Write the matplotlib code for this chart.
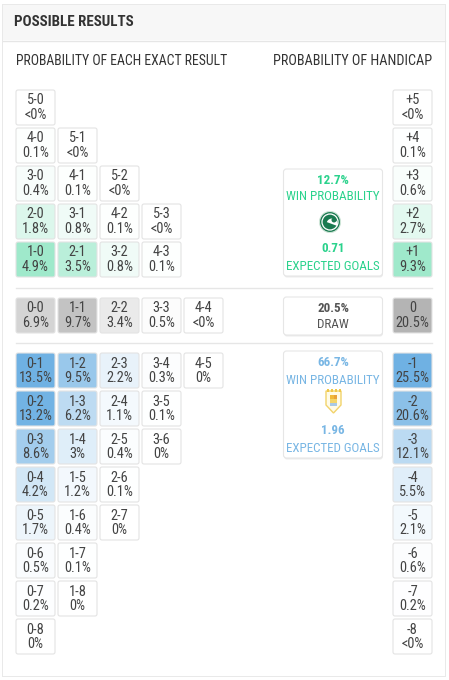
import matplotlib
matplotlib.use('Agg')
import matplotlib.pyplot as plt
from matplotlib.patches import FancyBboxPatch, Rectangle, Circle, Polygon, Wedge
from matplotlib.colors import LinearSegmentedColormap, Normalize

# ─── Data ──────────────────────────────────────────────────────
home_results = ["5-0", "4-0", "5-1", "3-0", "4-1", "5-2", "2-0", "3-1", "4-2", "5-3",
                "1-0", "2-1", "3-2", "4-3"]
home_pct = ["<0%", "0.1%", "<0%", "0.4%", "0.1%", "<0%", "1.8%", "0.8%", "0.1%", "<0%",
            "4.9%", "3.5%", "0.8%", "0.1%"]

draw_results = ["0-0", "1-1", "2-2", "3-3", "4-4"]
draw_pct = ["6.9%", "9.7%", "3.4%", "0.5%", "<0%"]

away_results = ["0-1", "1-2", "2-3", "3-4", "4-5", "0-2", "1-3", "2-4", "3-5",
                "0-3", "1-4", "2-5", "3-6", "0-4", "1-5", "2-6", "0-5", "1-6", "2-7",
                "0-6", "1-7", "0-7", "1-8", "0-8"]
away_pct = ["13.5%", "9.5%", "2.2%", "0.3%", "0%", "13.2%", "6.2%", "1.1%", "0.1%",
            "8.6%", "3%", "0.4%", "0%", "4.2%", "1.2%", "0.1%", "1.7%", "0.4%", "0%",
            "0.5%", "0.1%", "0.2%", "0%", "0%"]

handicap_labels = ["+5", "+4", "+3", "+2", "+1", "0", "-1", "-2", "-3", "-4",
                   "-5", "-6", "-7", "-8"]
handicap_pct = ["<0%", "0.1%", "0.6%", "2.7%", "9.3%", "20.5%", "25.5%", "20.6%",
                "12.1%", "5.5%", "2.1%", "0.6%", "0.2%", "<0%"]

home_win, home_xg = "12.7%", "0.71"
draw_prob = "20.5%"
away_win, away_xg = "66.7%", "1.96"

# ─── Style ─────────────────────────────────────────────────────
FONT = ['Roboto Condensed', 'Roboto', 'DejaVu Sans']
TXT = '#444444'
GREEN_TXT = '#2ad28c'
BLUE_TXT = '#78b6e4'
CMAPS = {
    'home': LinearSegmentedColormap.from_list('h', ['#ffffff', '#9fe9cb']),
    'draw': LinearSegmentedColormap.from_list('d', ['#ffffff', '#b4b4b4']),
    'away': LinearSegmentedColormap.from_list('a', ['#ffffff', '#6fb1e3']),
}

COL_X = [16, 58, 100, 142, 184]
HCP_X = 393
CW, CH = 39, 35
HOME_TOP = [90, 128, 166, 204, 242]
DRAW_TOP = 298
AWAY_TOP = [353 + 38 * i for i in range(8)]
CELL_FS = 10.4
BOX_FS = 9.4


def val(s):
    return float(s.strip('<%'))


def cell(ax, x, y, top, bottom, color):
    ax.add_patch(FancyBboxPatch((x + 1, y + 1), CW - 2, CH - 2,
                                boxstyle='round,pad=1,rounding_size=2',
                                fc=color, ec='#e3e3e3', lw=0.8, zorder=3))
    ax.text(x + CW / 2, y + 10.5, top, ha='center', va='center', fontsize=CELL_FS,
            color=TXT, family=FONT, zorder=4)
    ax.text(x + CW / 2, y + 25, bottom, ha='center', va='center', fontsize=CELL_FS,
            color=TXT, family=FONT, zorder=4)


fig = plt.figure(figsize=(4.49, 6.80), dpi=100)
ax = fig.add_axes([0, 0, 1, 1])
ax.set_xlim(0, 449)
ax.set_ylim(680, 0)
ax.axis('off')

# card + header
ax.add_patch(Rectangle((2, 4), 444, 673, fc='#e9e9e9', ec='none', zorder=0))
ax.add_patch(Rectangle((3, 5), 442, 671, fc='white', ec='none', zorder=1))
ax.add_patch(Rectangle((3, 5), 442, 35, fc='#f7f7f7', ec='none', zorder=1))
ax.plot([3, 445], [40.5, 40.5], color='#e6e6e6', lw=1, zorder=2)
ax.text(14, 22.5, 'POSSIBLE RESULTS', ha='left', va='center', fontsize=10.8,
        fontweight='bold', color='#333333', family=FONT, zorder=4)
ax.text(16, 61, 'PROBABILITY OF EACH EXACT RESULT', ha='left', va='center',
        fontsize=9.9, color='#333333', family=FONT, zorder=4)
ax.text(432, 61, 'PROBABILITY OF HANDICAP', ha='right', va='center',
        fontsize=10.2, color='#333333', family=FONT, zorder=4)
for yy in (287.5, 342.5):
    ax.plot([16, 432], [yy, yy], color='#e6e6e6', lw=1, zorder=2)

# score grids
norm_h = Normalize(0, max(val(p) for p in home_pct))
for res, p in zip(home_results, home_pct):
    h, a = map(int, res.split('-'))
    cell(ax, COL_X[a], HOME_TOP[5 - (h - a)], res, p, CMAPS['home'](norm_h(val(p))))

norm_d = Normalize(0, max(val(p) for p in draw_pct))
for res, p in zip(draw_results, draw_pct):
    d = int(res.split('-')[0])
    cell(ax, COL_X[d], DRAW_TOP, res, p, CMAPS['draw'](0.8 * norm_d(val(p))))

norm_a = Normalize(0, max(val(p) for p in away_pct))
for res, p in zip(away_results, away_pct):
    h, a = map(int, res.split('-'))
    cell(ax, COL_X[h], AWAY_TOP[a - h - 1], res, p, CMAPS['away'](norm_a(val(p))))

# handicap column
hcp_top = HOME_TOP + [DRAW_TOP] + AWAY_TOP
groups = ['home'] * 5 + ['draw'] + ['away'] * 8
for g in set(groups):
    idx = [i for i, gg in enumerate(groups) if gg == g]
    nrm = Normalize(0, max(val(handicap_pct[i]) for i in idx))
    for i in idx:
        cell(ax, HCP_X, hcp_top[i], handicap_labels[i], handicap_pct[i],
             CMAPS[g](nrm(val(handicap_pct[i]))))


# summary boxes
def box(y0, y1):
    ax.add_patch(FancyBboxPatch((284, y0 + 1.5), 99, y1 - y0,
                                boxstyle='round,pad=0,rounding_size=3',
                                fc='#ececec', ec='none', zorder=2))
    ax.add_patch(FancyBboxPatch((283.5, y0), 99, y1 - y0,
                                boxstyle='round,pad=0,rounding_size=3',
                                fc='white', ec='#e6e6e6', lw=0.8, zorder=3))


cx = 333
box(169, 276)
ax.text(cx, 180, home_win, ha='center', va='center', fontsize=BOX_FS, fontweight='bold',
        color=GREEN_TXT, family=FONT, zorder=4)
ax.text(cx, 197, 'WIN PROBABILITY', ha='center', va='center', fontsize=BOX_FS,
        color=GREEN_TXT, family=FONT, zorder=4)
ax.text(cx, 248, home_xg, ha='center', va='center', fontsize=BOX_FS, fontweight='bold',
        color=GREEN_TXT, family=FONT, zorder=4)
ax.text(cx, 266, 'EXPECTED GOALS', ha='center', va='center', fontsize=BOX_FS,
        color=GREEN_TXT, family=FONT, zorder=4)
# saudi crest (simplified)
ax.add_patch(Circle((330, 222), 10.5, fc='#1a7a50', ec='#cfe6d8', lw=0.8, zorder=4))
ax.add_patch(Circle((330, 222), 8, fc='none', ec='white', lw=0.9, zorder=5))
ax.add_patch(Wedge((332, 224), 5.5, 200, 20, fc='white', ec='none', zorder=5))
ax.add_patch(Circle((334, 220), 2.5, fc='#1a7a50', ec='none', zorder=6))

box(297, 335)
ax.text(cx, 308, draw_prob, ha='center', va='center', fontsize=BOX_FS, fontweight='bold',
        color='#555555', family=FONT, zorder=4)
ax.text(cx, 324, 'DRAW', ha='center', va='center', fontsize=BOX_FS,
        color='#555555', family=FONT, zorder=4)

box(351, 458)
ax.text(cx, 362, away_win, ha='center', va='center', fontsize=BOX_FS, fontweight='bold',
        color=BLUE_TXT, family=FONT, zorder=4)
ax.text(cx, 380, 'WIN PROBABILITY', ha='center', va='center', fontsize=BOX_FS,
        color=BLUE_TXT, family=FONT, zorder=4)
ax.text(cx, 430, away_xg, ha='center', va='center', fontsize=BOX_FS, fontweight='bold',
        color=BLUE_TXT, family=FONT, zorder=4)
ax.text(cx, 448, 'EXPECTED GOALS', ha='center', va='center', fontsize=BOX_FS,
        color=BLUE_TXT, family=FONT, zorder=4)
# uruguay crest (simplified shield)
shield = [(326, 391), (341, 391), (341, 405), (333.5, 413), (326, 405)]
ax.add_patch(Polygon(shield, closed=True, fc='#fffbe8', ec='#f2d36b', lw=1.0, zorder=4))
for sx in (327.5, 331.5, 335.5, 339.5):
    ax.add_patch(Rectangle((sx - 1, 389), 2, 2.5, fc='#f0c84a', ec='none', zorder=5))
ax.add_patch(Rectangle((330, 395), 3.5, 4, fc='#f0b93a', ec='none', zorder=5))
ax.add_patch(Rectangle((333.5, 395), 3.5, 4, fc='#e9a23a', ec='none', zorder=5))
ax.add_patch(Rectangle((330, 399), 7, 4, fc='#f3d56a', ec='none', zorder=5))
ax.add_patch(Rectangle((330, 403), 7, 3, fc='#a9c9e6', ec='none', zorder=5))

fig.savefig('out.png', dpi=100)
